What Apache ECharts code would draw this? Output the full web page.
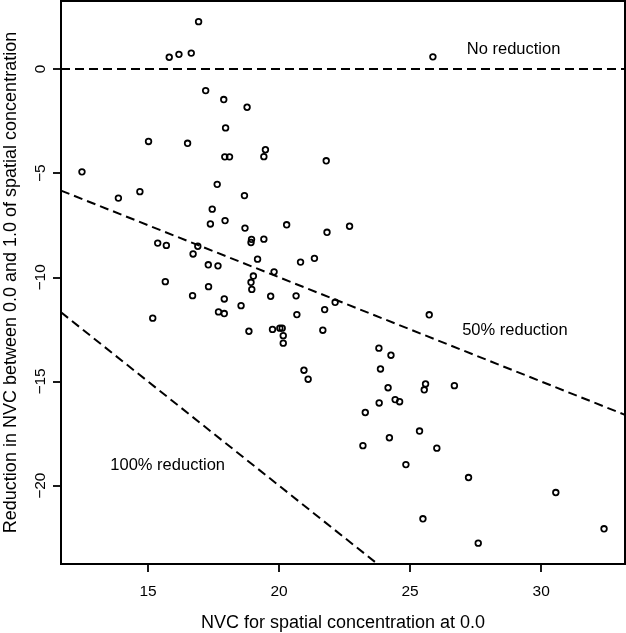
<!DOCTYPE html>
<html><head><meta charset="utf-8">
<script src="https://cdn.jsdelivr.net/npm/echarts@6/dist/echarts.min.js"></script>
<style>html,body{margin:0;padding:0;background:#fff}#c{width:626px;height:633px}</style>
</head><body><div id="c"></div>
<script>
// NVC for spatial concentration at 0.0 (x) and reduction in NVC (y)
const nvcX = [16.93,15.81,16.18,16.65,17.20,17.89,18.78,17.96,15.02,16.51,
  19.48,19.42,17.93,18.11,12.48,17.64,18.68,13.87,14.69,17.45,
  17.38,17.94,18.70,20.29,15.37,15.70,16.90,16.72,18.95,18.93,
  19.42,19.18,20.82,21.35,17.30,17.67,19.81,19.02,18.93,18.96,
  15.66,17.31,16.70,17.91,19.68,20.65,18.55,17.69,17.91,20.68,
  15.18,25.87,21.80,21.83,22.69,22.14,21.74,25.73,18.85,19.75,
  20.03,20.12,20.16,20.16,20.95,21.11,21.67,23.81,24.27,23.87,
  24.16,25.59,25.54,26.69,23.82,24.43,24.60,23.29,25.36,24.21,
  23.20,26.02,24.84,27.23,30.56,25.49,32.40,27.60];
const reductionY = [2.27,0.56,0.70,0.76,-1.04,-1.47,-1.84,-2.83,-3.48,-3.57,
  -3.88,-4.21,-4.22,-4.22,-4.94,-5.54,-6.08,-6.20,-5.89,-6.73,
  -7.44,-7.28,-7.64,-7.48,-8.36,-8.47,-8.51,-8.88,-8.18,-8.33,
  -8.17,-9.13,-9.27,-9.09,-9.40,-9.45,-9.74,-9.94,-10.24,-10.58,
  -10.21,-10.45,-10.88,-11.04,-10.91,-10.89,-11.36,-11.66,-11.74,-11.79,
  -11.96,0.58,-4.41,-7.84,-7.55,-11.20,-11.55,-11.80,-12.59,-12.50,
  -12.44,-12.44,-12.80,-13.16,-14.46,-14.89,-12.54,-13.40,-13.74,-14.40,
  -15.30,-15.12,-15.40,-15.20,-16.03,-15.87,-15.97,-16.49,-17.38,-17.70,
  -18.08,-18.20,-18.99,-19.61,-20.33,-21.59,-22.07,-22.76];
const xTicks = [15, 20, 25, 30];
const yTicks = [-20, -15, -10, -5, 0];
const xRange = [11.68, 33.2];
const yRange = [-23.76, 3.26];
// reference lines: y = slope * x
const refSlopes = [0, -0.5, -1];
const noteTexts = ['No reduction', '50% reduction', '100% reduction'];
const noteX = [28.95, 29.0, 15.75];
const noteY = [0.93, -12.57, -19.02];

const FONT = '"Liberation Sans", Arial, Helvetica, sans-serif';
const chart = echarts.init(document.getElementById('c'), null, {renderer: 'canvas'});
const minus = v => v < 0 ? '\u2212' + (-v) : String(v);

const series = [];
refSlopes.forEach(s => {
  series.push({
    type: 'line', silent: true, showSymbol: false, symbol: 'none', clip: true,
    data: [[xRange[0], s * xRange[0]], [xRange[1], s * xRange[1]]],
    lineStyle: {color: '#000', width: 2, type: [9, 5]}
  });
});
series.push({
  type: 'scatter', silent: true,
  data: nvcX.map((x, i) => [x, reductionY[i]]),
  symbol: 'circle', symbolSize: 5.6,
  itemStyle: {color: 'rgba(0,0,0,0)', borderColor: '#000', borderWidth: 1.8, opacity: 1}
});
series.push({
  type: 'scatter', silent: true, symbolSize: 0,
  data: noteTexts.map((t, i) => ({name: t, value: [noteX[i], noteY[i]]})),
  itemStyle: {color: '#000'},
  label: {show: true, position: 'inside', formatter: '{b}', color: '#000', opacity: 1,
    fontSize: 16.5, fontFamily: FONT, textBorderWidth: 0}
});

chart.setOption({
  animation: false,
  backgroundColor: '#fff',
  grid: {left: 61, right: 1, top: 1, bottom: 69, show: true, containLabel: false,
    outerBoundsMode: 'none',
    borderColor: '#000', borderWidth: 2, backgroundColor: 'transparent'},
  xAxis: {
    type: 'value', min: xRange[0], max: xRange[1],
    name: 'NVC for spatial concentration at 0.0', nameLocation: 'middle', nameGap: 50,
    nameTextStyle: {fontSize: 18, color: '#000', fontFamily: FONT},
    axisLine: {show: false, onZero: false}, splitLine: {show: false},
    axisTick: {show: true, customValues: xTicks, length: 8, lineStyle: {color: '#000', width: 1.8}},
    axisLabel: {customValues: xTicks, margin: 20, fontSize: 15.5, color: '#000', fontFamily: FONT}
  },
  yAxis: {
    type: 'value', min: yRange[0], max: yRange[1],
    name: 'Reduction in NVC between 0.0 and 1.0 of spatial concentration',
    nameLocation: 'middle', nameGap: 41, nameRotate: 90,
    nameTextStyle: {fontSize: 18, color: '#000', fontFamily: FONT},
    axisLine: {show: false, onZero: false}, splitLine: {show: false},
    axisTick: {show: true, customValues: yTicks, length: 8, lineStyle: {color: '#000', width: 1.8}},
    axisLabel: {customValues: yTicks, rotate: 90, margin: 12, fontSize: 15.5, color: '#000',
      fontFamily: FONT, formatter: minus}
  },
  series: series
});
</script>
</body></html>
